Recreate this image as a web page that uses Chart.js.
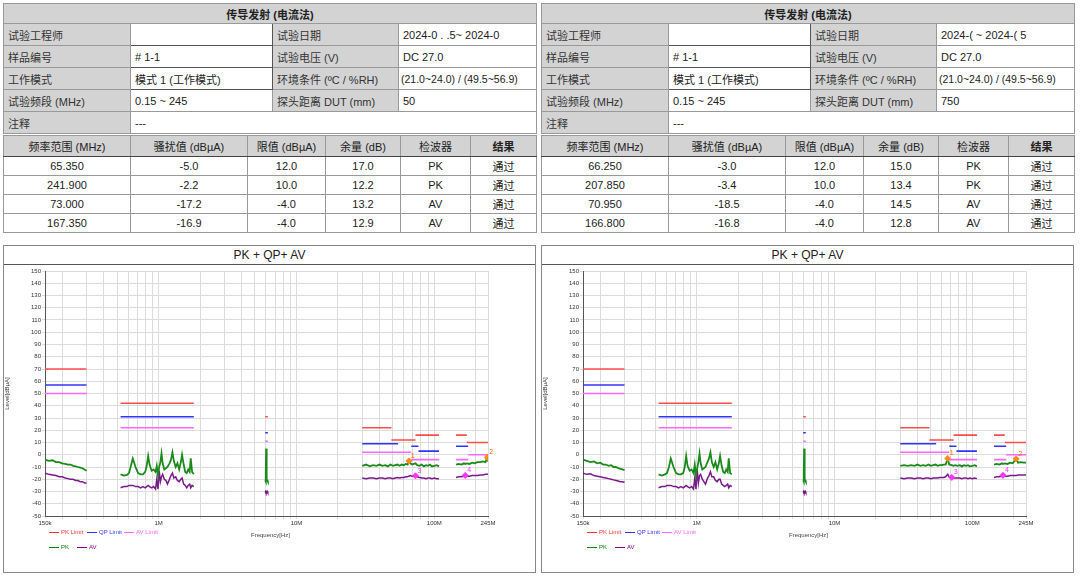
<!DOCTYPE html>
<html><head><meta charset="utf-8">
<script src="https://cdn.jsdelivr.net/npm/chart.js@4"></script>
<style>
body{margin:0;width:1080px;height:578px;background:#fff;font-family:Arial,"Liberation Sans","Noto Sans CJK SC",sans-serif;position:relative;overflow:hidden}
table{position:absolute;width:533px;border-collapse:collapse;font-size:11px;color:#222;table-layout:fixed}
td{height:21px;padding:0 4px;border:1px solid #999;white-space:nowrap;overflow:hidden}
td.g{background:#d3d3d3;color:#333}
td.t{text-align:center;font-weight:bold;height:19px;background:#d3d3d3}
tr.h td{background:#d3d3d3;text-align:center;border-bottom:1px solid #444;height:20px}
tr.d td{text-align:center;height:18px;background:#fff}
.box{position:absolute;top:245px;width:531px;height:326px;border:1px solid #888;background:#fff}
.bt{height:18px;border-bottom:1px solid #555;text-align:center;font-size:12px;line-height:18px;color:#222}
.cv{position:absolute;left:0;top:19px;width:531px;height:307px}
.lg{position:absolute;font-size:6px;color:#c0c;white-space:nowrap}
.lg span{display:inline-block;width:10px;height:0;border-top:1px solid;vertical-align:middle;margin-right:2px}
</style></head><body>
<script>
// ---------- data ----------
const f1=[0.15,0.16,0.17,0.18,0.19,0.2,0.21,0.22,0.23,0.24,0.25,0.26,0.27,0.28,0.29,0.3];
const pk1L=[-4,-5,-4.5,-6,-6,-7,-7.5,-8,-8,-9,-9.5,-10,-10.5,-11,-12,-13];
const av1L=[-15,-16,-16.5,-17,-18,-18,-19,-19.5,-20,-20,-21,-21,-22,-22,-23,-23];
const pk1R=[-4,-5,-6,-5.5,-7,-6.5,-8,-8,-9,-8.5,-10,-10,-11,-11.5,-12,-12.5];
const av1R=[-15,-16,-15.5,-17,-17.5,-18,-18.5,-19,-19.5,-20,-20.5,-21,-21.5,-22,-22,-22.5];
const f2=[0.53,0.56,0.59,0.61,0.63,0.65,0.68,0.71,0.74,0.77,0.8,0.82,0.84,0.86,0.89,0.92,0.95,0.97,0.99,1.01,1.03,1.05,1.07,1.1,1.13,1.16,1.2,1.23,1.26,1.29,1.33,1.37,1.41,1.45,1.48,1.52,1.56,1.6,1.64,1.68,1.71,1.75,1.8];
const pk2L=[-16,-17,-16.5,-15,-9,-3,-10,-15,-16,-16,-14,-9,-1,-8,-13,-12,-14,-9,-17,-10,-6,1,-7,-12,-11,-10,-7,-4,2,-5,-10,-7,-12,-6,0,-8,-14,-15,-12,-14,-3,-14,-16];
const av2L=[-27,-26,-26,-25,-25,-25,-26,-26,-27,-26,-27,-26,-25,-26,-27,-26,-28,-20,-28,-13,-22,-18,-16,-20,-21,-24,-20,-17,-15,-19,-18,-21,-22,-20,-19,-24,-25,-27,-25,-24,-27,-25,-26];
const pk2R=[-16,-17,-16,-15,-10,-3,-10,-15,-16,-16,-15,-10,-1,-9,-13,-12,-15,-8,-17,-11,-6,1,-7,-12,-11,-10,-6,-3,2,-6,-10,-6,-12,-7,-1,-9,-14,-15,-12,-14,-3,-15,-16];
const av2R=[-27,-26,-26,-25,-25,-25,-26,-26,-27,-26,-27,-26,-25,-26,-27,-26,-28,-19,-28,-12,-23,-17,-16,-20,-22,-24,-19,-17,-14,-18,-18,-21,-22,-20,-20,-24,-25,-26,-25,-24,-27,-25,-26];
const f3=[5.93,5.97,6.0,6.03,6.06,6.1,6.14,6.2];
const pk3=[-21,-22,-15,5,-5,-20,-21,-22];
const av3=[-30,-31,-29,-31,-30,-31,-30,-31];
const f4L=[30,32,34,36,38,40,42,44,46,48,50,52,54,56,58,60,62,64,65.35,67,69,71,73,75,78,81,84,87,90,93,96,100,104,108];
const pk4L=[-9,-8,-9.5,-8.5,-9,-8,-9,-8.5,-9.5,-8,-9,-8.5,-8,-9,-8,-8.5,-7.5,-8,-5,-7,-8,-7.5,-7,-8.5,-9,-8,-9.5,-8.5,-9,-8,-9.5,-9,-8.5,-9.5];
const av4L=[-19,-19.5,-19,-19,-19.5,-19,-19,-19.5,-19,-19,-19.5,-19,-18.5,-19,-18.5,-18.5,-18,-18,-17.5,-17,-17.5,-17.5,-17.2,-18,-18.5,-19,-19,-19.5,-19,-19,-19.5,-19,-19.5,-19.5];
const f4R=[30,32,34,36,38,40,42,44,46,48,50,52,54,56,58,60,62,64,66.25,68,70.95,73,75,78,81,84,87,90,93,96,100,104,108];
const pk4R=[-9,-8.5,-9,-8.5,-9,-8,-9,-8.5,-9,-8,-9,-8.5,-8,-9,-8.5,-8.5,-8,-8,-3,-8,-8.5,-9,-8.5,-9,-8.5,-9.5,-8.5,-9,-8.5,-9.5,-9,-8.5,-9.5];
const av4R=[-19,-19.5,-19,-19,-19.5,-19,-19,-19.5,-19,-19,-19.5,-19,-19,-19,-18.5,-18.5,-18.5,-18,-16,-18,-18.5,-19,-19,-19,-19,-19.5,-19,-19,-19.5,-19,-19.5,-19,-19.5];
const f5L=[143.6,150,157,164,167.35,172,180,188,196,205,215,225,235,241.9,245];
const pk5L=[-8,-7.5,-8,-7,-7.5,-7,-7.5,-6.5,-7,-6,-6,-5.5,-6,-2.2,-5.5];
const av5L=[-18.5,-18,-18,-17.5,-16.9,-17.5,-17.5,-17,-17,-17,-16.5,-16.5,-16,-16,-16];
const f5R=[143.6,150,157,164,166.8,172,180,188,196,207.85,215,225,235,245];
const pk5R=[-8,-7.5,-8,-7,-7.5,-7,-7.5,-6.5,-7,-3.4,-6.5,-6,-6.5,-6.5];
const av5R=[-18.5,-18,-18,-17.5,-16.8,-17.5,-17.5,-17,-17,-17,-16.5,-16.5,-16.5,-16.5];
// limits (frequency MHz, value; null = gap)
const pkLimF=[0.15,0.3,0.3,0.53,1.8,1.8,5.93,6.2,6.2,30,48.8,48.8,48.8,73,73,73,108,108,143.6,172,172,172,245];
const pkLimV=[70,70,null,42,42,null,31,31,null,22,22,null,12,12,null,16,16,null,16,16,null,10,10];
const qpLimF=[0.15,0.3,0.3,0.53,1.8,1.8,5.93,6.2,6.2,30,54.6,54.6,68,76.7,76.7,76.7,108,108,143.6,176];
const qpLimV=[57,57,null,31,31,null,18,18,null,9,9,null,7,7,null,3,3,null,7,7];
const avLimF=[0.15,0.3,0.3,0.53,1.8,1.8,5.93,6.2,6.2,30,68,68,68,108,108,143.6,176,176,176,245];
const avLimV=[50,50,null,22,22,null,11,11,null,2,2,null,-4,-4,null,-4,-4,null,0,0];
const mkPkL={f:[65.35,241.9],v:[-5.0,-2.2],n:['1','2']};
const mkAvL={f:[73.0,167.35],v:[-17.2,-16.9],n:['3','4']};
const mkPkR={f:[66.25,207.85],v:[-3.0,-3.4],n:['1','2']};
const mkAvR={f:[70.95,166.8],v:[-18.5,-16.8],n:['3','4']};
const yTicks=[-50,-40,-30,-20,-10,0,10,20,30,40,50,60,70,80,90,100,110,120,130,140,150];
const xLabels={0.15:'150k',1:'1M',10:'10M',100:'100M',245:'245M'};
const xGrid=[0.15,0.2,0.3,0.4,0.5,0.6,0.7,0.8,0.9,1,2,3,4,5,6,7,8,9,10,20,30,40,50,60,70,80,90,100,200,245];

const panels=[
 {x:3,eng:'',date:'2024-0 .  .5~ 2024-0',dist:'50',rows:[['65.350','-5.0','12.0','17.0','PK'],['241.900','-2.2','10.0','12.2','PK'],['73.000','-17.2','-4.0','13.2','AV'],['167.350','-16.9','-4.0','12.9','AV']],
  segs:[[f1,pk1L,av1L],[f2,pk2L,av2L],[f3,pk3,av3],[f4L,pk4L,av4L],[f5L,pk5L,av5L]],mp:mkPkL,ma:mkAvL},
 {x:541,eng:'',date:'2024-(        ~ 2024-(     5',dist:'750',rows:[['66.250','-3.0','12.0','15.0','PK'],['207.850','-3.4','10.0','13.4','PK'],['70.950','-18.5','-4.0','14.5','AV'],['166.800','-16.8','-4.0','12.8','AV']],
  segs:[[f1,pk1R,av1R],[f2,pk2R,av2R],[f3,pk3,av3],[f4R,pk4R,av4R],[f5R,pk5R,av5R]],mp:mkPkR,ma:mkAvR}
];

function zip(f,v){return f.map((x,i)=>({x:x,y:v[i]}));}
function joinSegs(segs,k){let out=[];segs.forEach((s,i)=>{if(i)out.push({x:s[0][0]*0.999,y:null});out=out.concat(zip(s[0],s[k]));});return out;}

const labelPlugin={id:'mk',afterDatasetsDraw(c){const ctx=c.ctx;ctx.save();ctx.font='7px Arial';
 c.data.datasets.forEach((d,i)=>{if(!d.mk)return;const m=c.getDatasetMeta(i);m.data.forEach((p,j)=>{ctx.fillStyle=d.mkc;ctx.fillText(d.mk[j],p.x+2,p.y-3);});});ctx.restore();}};

panels.forEach(P=>{
 const t=document.createElement('table');t.style.left=P.x+'px';t.style.top='3px';
 const bv='style="border:1px solid #555;background:#fff"';
 t.innerHTML=`<colgroup><col style="width:127px"><col style="width:142px"><col style="width:126px"><col style="width:138px"></colgroup>
 <tr><td class="t" colspan="4">传导发射 (电流法)</td></tr>
 <tr><td class="g">试验工程师</td><td ${bv}>${P.eng}</td><td class="g">试验日期</td><td>${P.date}</td></tr>
 <tr><td class="g">样品编号</td><td ${bv}># 1-1</td><td class="g">试验电压 (V)</td><td>DC 27.0</td></tr>
 <tr><td class="g">工作模式</td><td ${bv}>模式 1 (工作模式)</td><td class="g">环境条件 (ºC / %RH)</td><td style="font-size:10.5px;padding:0 2px">(21.0~24.0) / (49.5~56.9)</td></tr>
 <tr><td class="g">试验频段 (MHz)</td><td>0.15 ~ 245</td><td class="g">探头距离 DUT (mm)</td><td>${P.dist}</td></tr>
 <tr><td class="g">注释</td><td colspan="3">---</td></tr>`;
 document.body.appendChild(t);
 const t2=document.createElement('table');t2.style.left=P.x+'px';t2.style.top='135px';
 t2.innerHTML=`<colgroup><col style="width:127px"><col style="width:117px"><col style="width:78px"><col style="width:75px"><col style="width:70px"><col style="width:66px"></colgroup>
 <tr class="h"><td>频率范围 (MHz)</td><td>骚扰值 (dBµA)</td><td>限值 (dBµA)</td><td>余量 (dB)</td><td>检波器</td><td><b>结果</b></td></tr>
 ${P.rows.map(r=>`<tr class="d">${r.map(c=>`<td>${c}</td>`).join('')}<td>通过</td></tr>`).join('')}`;
 document.body.appendChild(t2);
 const b=document.createElement('div');b.className='box';b.style.left=P.x+'px';
 b.innerHTML='<div class="bt">PK + QP+ AV</div><div class="cv"><canvas width="531" height="307"></canvas></div>'+
  '<div class="lg" style="left:45px;top:283px;color:#f33"><span style="border-color:#f33"></span>PK Limit</div>'+
  '<div class="lg" style="left:83px;top:283px;color:#33f"><span style="border-color:#33f"></span>QP Limit</div>'+
  '<div class="lg" style="left:120px;top:283px;color:#f6f"><span style="border-color:#f6f"></span>AV Limit</div>'+
  '<div class="lg" style="left:247px;top:286px;color:#444">Frequency[Hz]</div>'+
  '<div class="lg" style="left:45px;top:298px;color:#080"><span style="border-color:#080"></span>PK</div>'+
  '<div class="lg" style="left:73px;top:298px;color:#808"><span style="border-color:#808"></span>AV</div>';
 document.body.appendChild(b);
 const lim=(f,v,c,w)=>({data:zip(f,v),borderColor:c,borderWidth:w,pointRadius:0,spanGaps:false,order:2});
 new Chart(b.querySelector('canvas'),{type:'line',
  data:{datasets:[
   lim(pkLimF,pkLimV,'#ff4d4d',1.6),lim(qpLimF,qpLimV,'#3333ff',1.6),lim(avLimF,avLimV,'#ff66ff',1.6),
   {data:joinSegs(P.segs,1),borderColor:'#1a8a1a',borderWidth:1.8,pointRadius:0,spanGaps:false,order:1},
   {data:joinSegs(P.segs,2),borderColor:'#7a1a8a',borderWidth:1.5,pointRadius:0,spanGaps:false,order:1},
   {type:'scatter',data:zip(P.mp.f,P.mp.v),backgroundColor:'#ff8c1a',borderColor:'#ff8c1a',pointStyle:'rectRot',pointRadius:3,mk:P.mp.n,mkc:'#ff6600',order:0},
   {type:'scatter',data:zip(P.ma.f,P.ma.v),backgroundColor:'#ff33ff',borderColor:'#ff33ff',pointStyle:'rectRot',pointRadius:3,mk:P.ma.n,mkc:'#ff33ff',order:0}
  ]},
  plugins:[labelPlugin],
  options:{responsive:false,animation:false,events:[],
   layout:{padding:{top:6,right:47,left:0,bottom:0}},
   plugins:{legend:{display:false},tooltip:{enabled:false}},
   scales:{
    x:{type:'logarithmic',min:0.15,max:245,
     afterBuildTicks(a){a.ticks=xGrid.map(v=>({value:v}));},
     afterFit(a){a.height=56;},
     ticks:{autoSkip:false,maxRotation:0,padding:1,font:{size:6},color:'#333',callback:(v)=>xLabels[v]||''},
     grid:{color:'#dcdcdc',lineWidth:1,tickLength:3},border:{color:'#555'}},
    y:{min:-50,max:150,
     afterBuildTicks(a){a.ticks=yTicks.map(v=>({value:v}));},
     afterFit(a){a.width=41;},
     title:{display:true,text:'Level[dBµA]',font:{size:6},color:'#333',padding:0},
     ticks:{autoSkip:false,font:{size:6},color:'#333',padding:1},
     grid:{color:'#dcdcdc',tickLength:3},border:{color:'#555'}}
   }}});
});
</script>
</body></html>
